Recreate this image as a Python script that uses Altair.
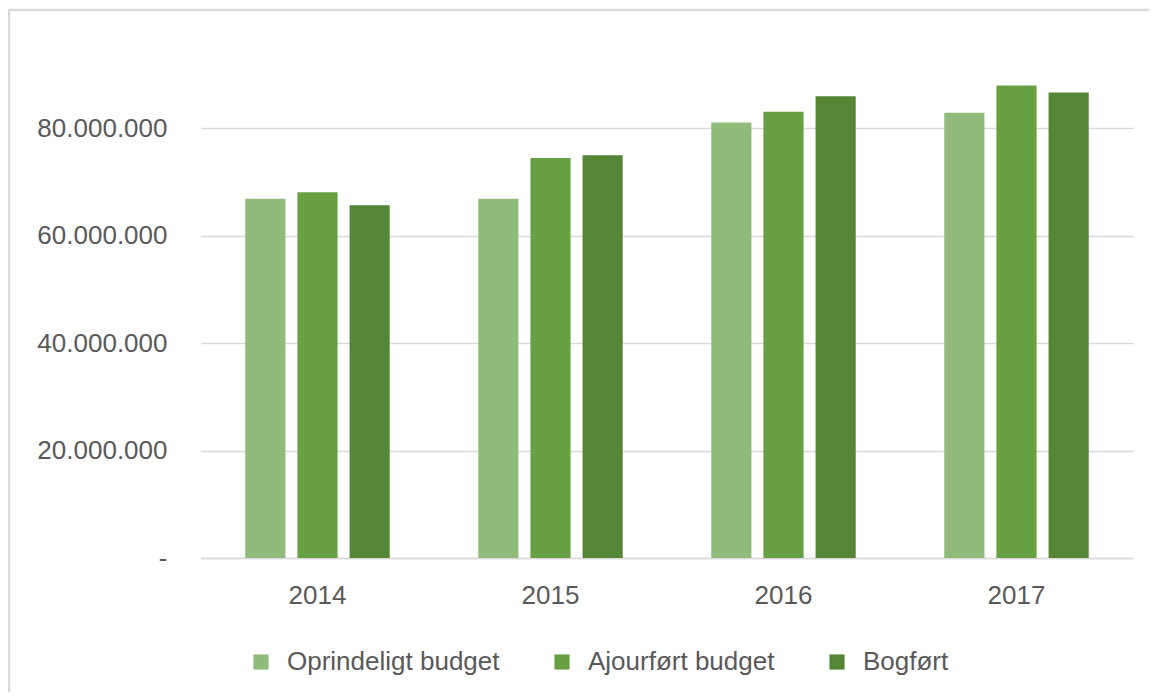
import altair as alt
import pandas as pd

years = ["2014", "2015", "2016", "2017"]
series = ["Oprindeligt budget", "Ajourført budget", "Bogført"]
oprindeligt = [66.9e6, 66.9e6, 81.1e6, 82.9e6]
ajourfoert = [68.1e6, 74.5e6, 83.1e6, 88.0e6]
bogfoert = [65.7e6, 75.0e6, 86.0e6, 86.7e6]
colors = ["#91BB7B", "#67A143", "#548636"]
y_ticks = [0, 20e6, 40e6, 60e6, 80e6]

rows = []
for i, y in enumerate(years):
    for s, vals in zip(series, [oprindeligt, ajourfoert, bogfoert]):
        rows.append({"year": y, "series": s, "value": vals[i]})
df = pd.DataFrame(rows)

FONT = "Liberation Sans"
GREY = "#595959"

bars = alt.Chart(df).mark_bar().encode(
    x=alt.X("year:N", sort=years, title=None,
            scale=alt.Scale(paddingInner=0.38, paddingOuter=0.19),
            axis=alt.Axis(labelAngle=0, labelFontSize=26, labelColor=GREY, labelFont=FONT,
                          labelPadding=24, ticks=False, domainColor="#d9d9d9", domainWidth=1.5,
                          grid=False)),
    xOffset=alt.XOffset("series:N", sort=series,
                        scale=alt.Scale(paddingInner=0.23, paddingOuter=0)),
    y=alt.Y("value:Q", title=None,
            scale=alt.Scale(domain=[0, 100e6], nice=False),
            axis=alt.Axis(values=y_ticks, format=",d",
                          labelExpr="datum.value == 0 ? '-\u00a0\u00a0' : datum.label",
                          labelFontSize=26, labelColor=GREY, labelFont=FONT,
                          labelPadding=34, ticks=False, domain=False,
                          gridColor="#d9d9d9", gridWidth=1.5)),
    color=alt.Color("series:N", sort=series, title=None,
                    scale=alt.Scale(domain=series, range=colors),
                    legend=alt.Legend(orient="none", legendX=47, legendY=628,
                                      direction="horizontal", symbolType="square",
                                      symbolSize=230, symbolStrokeWidth=0,
                                      labelFontSize=26, labelColor=GREY, labelFont=FONT,
                                      labelLimit=0, labelOffset=13, columnPadding=49)),
)

frame = alt.Chart(pd.DataFrame({"a": [0]})).mark_rect(
    fill=None, stroke="#d9d9d9", strokeWidth=2.5
).encode(x=alt.value(-192), x2=alt.value(1000), y=alt.value(-11), y2=alt.value(720))

chart = alt.layer(frame, bars).properties(
    width=932, height=537,
    autosize=alt.AutoSizeParams(type="none"),
    padding={"left": 193, "top": 13, "right": 16, "bottom": 134},
).configure(
    locale={"number": {"decimal": ",", "thousands": ".", "grouping": [3], "currency": ["", " kr."]}},
    view=alt.ViewConfig(strokeWidth=0, stroke="transparent"),
)

chart.save("out.html", embed_options={"renderer": "svg", "actions": False})
